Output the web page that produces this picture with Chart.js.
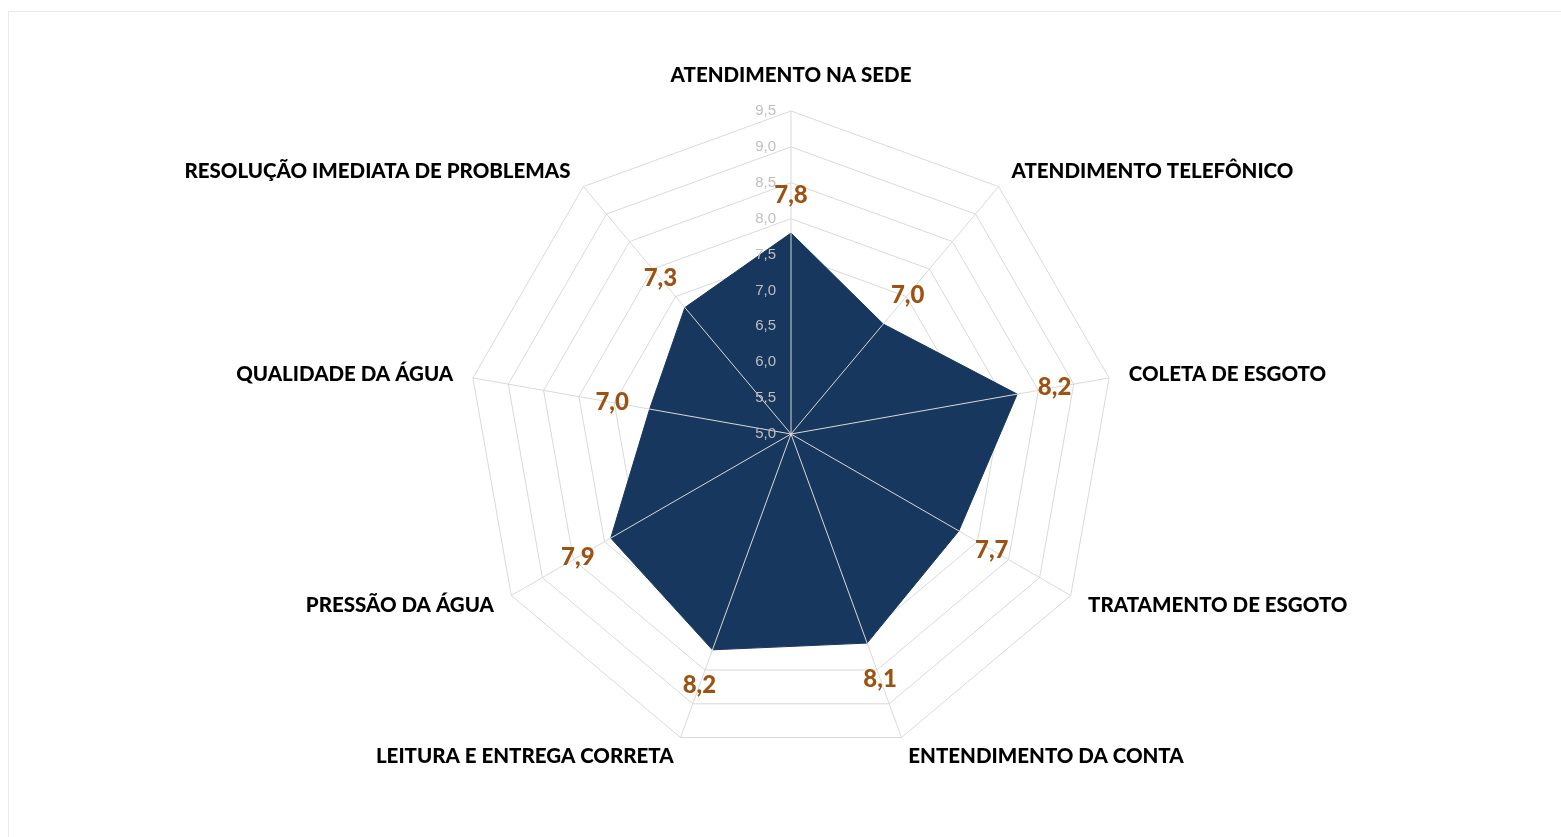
<!DOCTYPE html>
<html lang="pt-BR">
<head>
<meta charset="utf-8">
<title>Satisfação por item</title>
<script src="https://cdn.jsdelivr.net/npm/chart.js@4/dist/chart.umd.min.js"></script>
<style>
    html, body { margin: 0; padding: 0; background: #ffffff; overflow: hidden; }
    #moldura {
        position: absolute; left: 8px; top: 11px; width: 1600px; height: 900px;
        border: 1px solid #ebebeb; box-sizing: border-box;
    }
    #graficoRadar { position: absolute; left: 0; top: 0; }
</style>
</head>
<body>
<div id="moldura"></div>
<canvas id="graficoRadar" width="1561" height="837"></canvas>
<script>
const categorias = [
    'ATENDIMENTO NA SEDE',
    'ATENDIMENTO TELEFÔNICO',
    'COLETA DE ESGOTO',
    'TRATAMENTO DE ESGOTO',
    'ENTENDIMENTO DA CONTA',
    'LEITURA E ENTREGA CORRETA',
    'PRESSÃO DA ÁGUA',
    'QUALIDADE DA ÁGUA',
    'RESOLUÇÃO IMEDIATA DE PROBLEMAS'
];
const notas = [7.8, 7.0, 8.2, 7.7, 8.1, 8.2, 7.9, 7.0, 7.3];
const escala = [5.0, 5.5, 6.0, 6.5, 7.0, 7.5, 8.0, 8.5, 9.0, 9.5];

const virgula = v => v.toFixed(1).replace('.', ',');

// eixos e rótulos desenhados por cima do preenchimento, como no Excel
const sobreposicao = {
    id: 'sobreposicao',
    afterDatasetsDraw(chart) {
        const ctx = chart.ctx;
        const r = chart.scales.r;
        const cx = r.xCenter, cy = r.yCenter;

        ctx.save();
        ctx.strokeStyle = '#d9d9d9';
        ctx.lineWidth = 1;
        categorias.forEach((_, i) => {
            const p = r.getPointPosition(i, r.drawingArea);
            ctx.beginPath();
            ctx.moveTo(cx, cy);
            ctx.lineTo(p.x, p.y);
            ctx.stroke();
        });

        // valores do eixo
        ctx.font = '15px "Liberation Sans", Arial, sans-serif';
        ctx.fillStyle = '#bfbfbf';
        ctx.textAlign = 'right';
        ctx.textBaseline = 'middle';
        r.ticks.forEach(t => {
            const d = r.getDistanceFromCenterForValue(t.value);
            ctx.fillText(virgula(t.value), cx - 15, cy - d);
        });

        // nomes das categorias
        ctx.font = '900 20.5px Lato, "Open Sans", sans-serif';
        ctx.fillStyle = '#000000';
        categorias.forEach((nome, i) => {
            const p = r.getPointPosition(i, r.drawingArea + 20);
            if (Math.abs(p.x - cx) < 5) {
                ctx.textAlign = 'center';
                ctx.textBaseline = p.y < cy ? 'bottom' : 'top';
                ctx.fillText(nome, p.x, p.y - 5);
            } else {
                ctx.textAlign = p.x > cx ? 'left' : 'right';
                ctx.textBaseline = 'middle';
                ctx.fillText(nome, p.x, p.y);
            }
        });

        // rótulos de dados
        ctx.font = '900 24px Lato, "Open Sans", sans-serif';
        ctx.fillStyle = '#9c5212';
        ctx.textAlign = 'center';
        ctx.textBaseline = 'middle';
        notas.forEach((v, i) => {
            const d = r.getDistanceFromCenterForValue(v);
            const p = r.getPointPosition(i, d + 38);
            ctx.fillText(virgula(v), p.x, p.y);
        });
        ctx.restore();
    }
};

const ctx = document.getElementById('graficoRadar').getContext('2d');

new Chart(ctx, {
    type: 'radar',
    data: {
        labels: categorias,
        datasets: [{
            label: 'Nota',
            data: notas,
            backgroundColor: '#17375e',
            borderColor: '#17375e',
            borderWidth: 1,
            pointRadius: 0,
            fill: true
        }]
    },
    options: {
        responsive: false,
        animation: false,
        layout: { padding: { top: 111, bottom: 80, left: 21, right: 0 } },
        plugins: {
            legend: { display: false },
            tooltip: { enabled: false }
        },
        scales: {
            r: {
                min: escala[0],
                max: escala[escala.length - 1],
                ticks: { stepSize: 0.5, display: false },
                grid: { circular: false, color: '#d9d9d9', lineWidth: 1 },
                angleLines: { display: false },
                pointLabels: { display: false }
            }
        }
    },
    plugins: [sobreposicao]
});
</script>
</body>
</html>
